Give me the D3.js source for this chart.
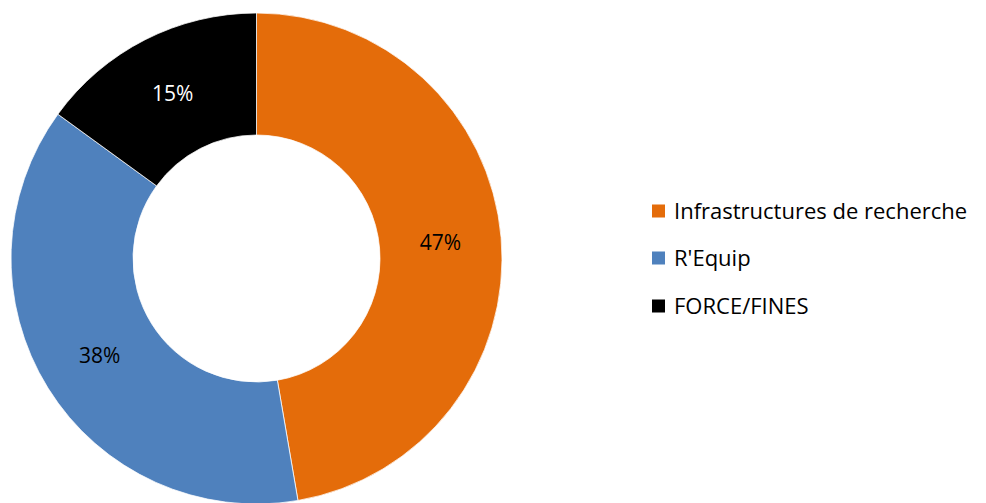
<!DOCTYPE html>
<html><head><meta charset="utf-8">
<script src="https://cdn.jsdelivr.net/npm/d3@7"></script>
<style>body{margin:0;background:#fff}svg{display:block}</style>
</head><body><svg id="c" width="986" height="503"></svg>
<script>
const categories = ["Infrastructures de recherche", "R'Equip", "FORCE/FINES"];
const values = [47.3, 37.7, 15.0];
const colors = ["#E46C0A", "#4F81BD", "#000000"];
const labelColors = ["#000000", "#000000", "#FFFFFF"];

const svg = d3.select("#c");
const cx = 256.5, cy = 258.5, R = 245.5, r = 123.5;
const font = "'Open Sans', sans-serif";
const fs = 22;
const data = categories.map((c, i) => ({c, v: values[i], i}));
const pie = d3.pie().sort(null).value(d => d.v);
const arcs = pie(data);
const arc = d3.arc().innerRadius(r).outerRadius(R);
const total = d3.sum(values);
const g = svg.append("g").attr("transform", `translate(${cx},${cy})`);
g.selectAll("path").data(arcs).join("path")
  .attr("d", arc).attr("fill", d => colors[d.data.i])
  .attr("stroke", "#fff").attr("stroke-width", 0.75);
g.selectAll("text").data(arcs).join("text")
  .attr("transform", d => `translate(${arc.centroid(d)})`)
  .attr("text-anchor", "middle").attr("dy", "0.35em")
  .attr("font-family", font).attr("font-size", 21)
  .attr("fill", d => labelColors[d.data.i])
  .text(d => Math.round(d.data.v / total * 100) + "%");

const leg = svg.append("g").attr("transform", "translate(652,0)");
const rowY = [211, 258, 306];
data.forEach((d, i) => {
  leg.append("rect").attr("x", 0).attr("y", rowY[i] - 6.5).attr("width", 13).attr("height", 13).attr("fill", colors[i]);
  leg.append("text").attr("x", 22).attr("y", rowY[i]).attr("dy", "0.35em")
    .attr("font-family", font).attr("font-size", fs).attr("fill", "#000").text(d.c);
});
</script></body></html>
